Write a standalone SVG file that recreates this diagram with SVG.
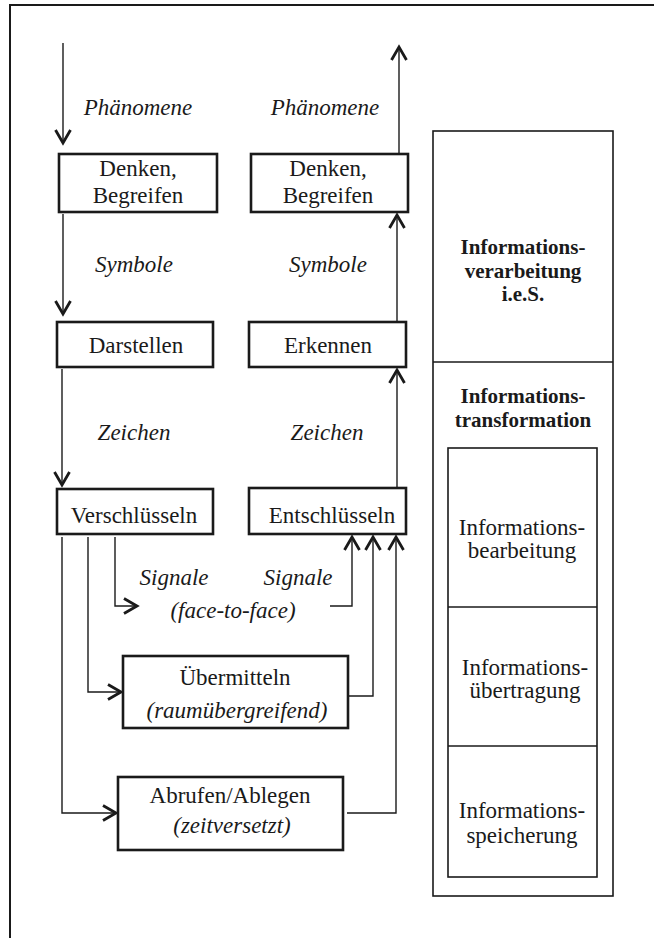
<svg xmlns="http://www.w3.org/2000/svg" width="654" height="938" viewBox="0 0 654 938">
<style>
text{font-family:"Liberation Serif","Times New Roman",serif;font-size:23px;fill:#1a1a1a;text-anchor:middle}
.it{font-style:italic}
.b{font-weight:bold;font-size:21px}
.box{fill:#fff;stroke:#1a1a1a;stroke-width:2.6}
.pan{fill:none;stroke:#1a1a1a;stroke-width:1.6}
.con{fill:none;stroke:#1a1a1a;stroke-width:1.4}
.frame{fill:none;stroke:#1a1a1a;stroke-width:2}
</style>
<defs>
<marker id="arr" markerUnits="userSpaceOnUse" viewBox="-16 -10 20 20" markerWidth="20" markerHeight="20" refX="0" refY="0" orient="auto" overflow="visible">
<path d="M-13,-7.5 L0,0 L-13,7.5" fill="none" stroke="#1a1a1a" stroke-width="2.8"/>
</marker>
</defs>
<rect width="654" height="938" fill="#fff"/>
<g id="frame">
<path class="frame" d="M10,938 V5 H654"/>
</g>
<g id="connectors">
<path class="con" d="M63,43 V143" marker-end="url(#arr)"/>
<path class="con" d="M399,153 V47" marker-end="url(#arr)"/>
<path class="con" d="M63,214 V314" marker-end="url(#arr)"/>
<path class="con" d="M397,321 V215" marker-end="url(#arr)"/>
<path class="con" d="M62,369 V485" marker-end="url(#arr)"/>
<path class="con" d="M397,487 V370" marker-end="url(#arr)"/>
<path class="con" d="M115,537 V606 H137" marker-end="url(#arr)"/>
<path class="con" d="M330,606 H352 V537" marker-end="url(#arr)"/>
<path class="con" d="M88,537 V692 H121" marker-end="url(#arr)"/>
<path class="con" d="M348,696 H373 V537" marker-end="url(#arr)"/>
<path class="con" d="M62,537 V813 H116" marker-end="url(#arr)"/>
<path class="con" d="M347,813 H396 V537" marker-end="url(#arr)"/>
</g>
<g id="labels">
<text class="it" x="138" y="115">Phänomene</text>
<text class="it" x="325" y="115">Phänomene</text>
<text class="it" x="134" y="272">Symbole</text>
<text class="it" x="328" y="272">Symbole</text>
<text class="it" x="134" y="440">Zeichen</text>
<text class="it" x="327" y="440">Zeichen</text>
<text class="it" x="174" y="585">Signale</text>
<text class="it" x="298" y="585">Signale</text>
<text class="it" x="233" y="618">(face-to-face)</text>
</g>
<g id="denken-left">
<rect class="box" x="59" y="154" width="158" height="58"/>
<text x="138" y="176">Denken,</text>
<text x="138" y="203">Begreifen</text>
</g>
<g id="denken-right">
<rect class="box" x="251" y="154" width="157" height="58"/>
<text x="328" y="176">Denken,</text>
<text x="328" y="203">Begreifen</text>
</g>
<g id="darstellen">
<rect class="box" x="57" y="322" width="156" height="45"/>
<text x="136" y="353">Darstellen</text>
</g>
<g id="erkennen">
<rect class="box" x="249" y="322" width="157" height="45"/>
<text x="328" y="353">Erkennen</text>
</g>
<g id="verschluesseln">
<rect class="box" x="57" y="489" width="156" height="45"/>
<text x="134" y="523">Verschlüsseln</text>
</g>
<g id="entschluesseln">
<rect class="box" x="249" y="488" width="157" height="46"/>
<text x="332" y="523">Entschlüsseln</text>
</g>
<g id="uebermitteln">
<rect class="box" x="123" y="656" width="225" height="72"/>
<text x="235" y="685">Übermitteln</text>
<text class="it" x="237" y="718">(raumübergreifend)</text>
</g>
<g id="abrufen">
<rect class="box" x="118" y="777" width="225" height="73"/>
<text x="230" y="803">Abrufen/Ablegen</text>
<text class="it" x="232" y="833">(zeitversetzt)</text>
</g>
<g id="panel">
<rect class="pan" x="433" y="131" width="180" height="765"/>
<line class="pan" x1="433" y1="362" x2="613" y2="362"/>
<text class="b" x="523" y="254">Informations-</text>
<text class="b" x="523" y="277.5">verarbeitung</text>
<text class="b" x="523" y="301">i.e.S.</text>
<text class="b" x="523" y="403">Informations-</text>
<text class="b" x="523" y="427">transformation</text>
</g>
<g id="panel-inner">
<rect class="pan" x="448" y="448" width="149" height="429"/>
<line class="pan" x1="448" y1="607" x2="597" y2="607"/>
<line class="pan" x1="448" y1="746" x2="597" y2="746"/>
<text x="522" y="535">Informations-</text>
<text x="522" y="558">bearbeitung</text>
<text x="525" y="675">Informations-</text>
<text x="525" y="698">übertragung</text>
<text x="522" y="818">Informations-</text>
<text x="522" y="843">speicherung</text>
</g>
</svg>
